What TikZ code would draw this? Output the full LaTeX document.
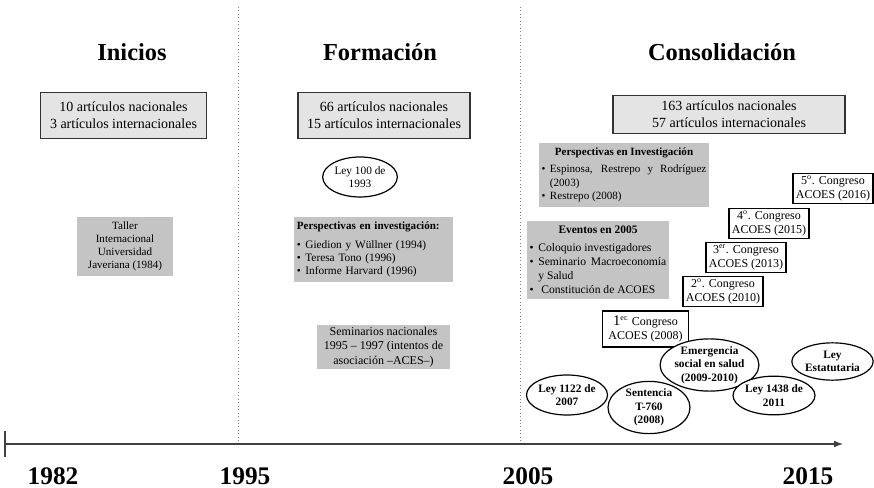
\documentclass[tikz,border=0pt]{standalone}
\usepackage{fontspec}
\setmainfont{Liberation Serif}
\usetikzlibrary{shapes, arrows.meta, positioning}
\definecolor{grisclaro}{HTML}{E4E4E4}
\definecolor{grismedio}{HTML}{C4C4C4}
\tikzstyle{every node}=[font=\small]
\tikzstyle{etapa}=[font=\bfseries\fontsize{18.3}{22}\selectfont]
\tikzstyle{anno}=[font=\bfseries\fontsize{19}{22}\selectfont]
\tikzstyle{cifras}=[draw=black!80, fill=grisclaro, line width=0.9pt, align=center,
  font=\fontsize{10.5}{12.5}\selectfont, minimum height=34pt]
\tikzstyle{hito}=[fill=grismedio, inner sep=2pt, font=\fontsize{8.3}{9.8}\selectfont]
\tikzstyle{congreso}=[draw, fill=white, line width=0.9pt, align=center, inner sep=1pt,
  font=\fontsize{9}{10.8}\selectfont, minimum width=60pt, minimum height=23pt]
\tikzstyle{ley}=[draw, ellipse, fill=white, align=center, inner sep=0pt, line width=0.9pt,
  font=\bfseries\fontsize{8.5}{10}\selectfont]
\newcommand{\punto}[1]{\par\hangindent=0.75em\hangafter=1\noindent
  \makebox[0.75em][l]{\textbullet}#1}

\begin{document}
\begin{tikzpicture}[x=0.75pt,y=-0.75pt,>=Latex]
  \useasboundingbox (0,0) rectangle (874,488);
  % periods and time axis
  \draw[dotted, gray, line width=0.6pt] (238,7) -- (238,444);
  \draw[dotted, gray, line width=0.6pt] (520,7) -- (520,444);
  \coordinate (inicio) at (5,444);
  \coordinate (fin) at (843,444);
  \draw[black!75, line width=0.8pt, ->] (inicio) -- (fin);
  \draw[black!75, line width=0.8pt] (5,431) -- (5,457);
  \node[anno] (a1982) at (53,476) {1982};
  \node[anno] (a1995) at (245,476) {1995};
  \node[anno] (a2005) at (528,476) {2005};
  \node[anno] (a2015) at (808,476) {2015};

  % titles
  \node[etapa] (inicios) at (132,52) {Inicios};
  \node[etapa] (formacion) at (380,52) {Formación};
  \node[etapa] (consolidacion) at (722,52) {Consolidación};

  % article counts
  \node[cifras, minimum width=125pt] (cifras1) at (123.5,115.5)
    {10 artículos nacionales\\3 artículos internacionales};
  \node[cifras, minimum width=129pt] (cifras2) at (384,115.5)
    {66 artículos nacionales\\15 artículos internacionales};
  \node[cifras, minimum width=174pt, minimum height=29pt] (cifras3) at (729,114.5)
    {163 artículos nacionales\\57 artículos internacionales};

  % Inicios
  \node[hito, align=center, minimum width=72pt, minimum height=44pt] (taller) at (125,246.5)
    {Taller\\Internacional\\Universidad\\Javeriana (1984)};

  % Formacion
  \node[ley, font=\fontsize{8.5}{10}\selectfont, minimum width=56pt, minimum height=30pt]
    (ley100) at (360,177) {Ley 100 de\\1993};
  \node[hito, text width=115pt, minimum height=49pt, font=\fontsize{8.5}{9.8}\selectfont]
    (persp1) at (373.5,249.5)
    {{\fontsize{8.3}{9.8}\selectfont\textbf{Perspectivas en investigación:}}\par\vspace{4.5pt}
     \punto{Giedion y Wüllner (1994)}
     \punto{Teresa Tono (1996)}
     \punto{Informe Harvard (1996)}};
  \node[hito, align=center, minimum width=100pt, minimum height=33pt,
    font=\fontsize{9}{10.6}\selectfont] (seminarios)
    at (383.5,347) {Seminarios nacionales\\1995 -- 1997 (intentos de\\asociación --ACES--)};

  % Consolidacion
  \node[hito, text width=123.5pt, align=justify, minimum height=48pt,
    font=\fontsize{8.3}{10}\selectfont] (persp2) at (624,175)
    {\hyphenpenalty=10000\relax
     \makebox[\linewidth]{\textbf{Perspectivas en Investigación}}\par\vspace{3pt}
     \punto{Espinosa, Restrepo y Rodríguez (2003)}
     \punto{Restrepo (2008)}};
  \node[hito, text width=102.5pt, align=justify, minimum height=58pt,
    font=\fontsize{8.7}{10.5}\selectfont] (eventos) at (598,260)
    {\hyphenpenalty=10000\relax
     \makebox[\linewidth]{\fontsize{8.6}{10}\selectfont\textbf{Eventos en 2005}}\par\vspace{3pt}
     \punto{Coloquio investigadores}
     \punto{Seminario Macroeconomía y Salud}
     \punto{\ Constitución de ACOES}};

  \node[congreso, minimum width=64pt, minimum height=27pt] (cong1) at (645.5,329)
    {{\fontsize{11}{12}\selectfont 1}\textsuperscript{er.} Congreso\\ACOES (2008)};
  \node[congreso] (cong2) at (723,291.5) {2\textsuperscript{o}. Congreso\\ACOES (2010)};
  \node[congreso] (cong3) at (746,257.5) {3\textsuperscript{er}. Congreso\\ACOES (2013)};
  \node[congreso] (cong4) at (769,223.5) {4\textsuperscript{o}. Congreso\\ACOES (2015)};
  \node[congreso] (cong5) at (833,188.5) {5\textsuperscript{o}. Congreso\\ACOES (2016)};

  \node[ley, minimum width=60pt, minimum height=30pt] (ley1122) at (567,395)
    {Ley 1122 de\\2007};
  \node[ley, minimum width=61.5pt, minimum height=37pt] (sentencia) at (649,407.5)
    {Sentencia\\T-760\\(2008)};
  \node[ley, minimum width=65pt, minimum height=33pt] (emergencia) at (709.5,365)
    {Emergencia\\social en salud\\(2009-2010)};
  \node[ley, minimum width=61.5pt, minimum height=29pt] (ley1438) at (774,395.5)
    {Ley 1438 de\\2011};
  \node[ley, minimum width=61pt, minimum height=28pt] (estatutaria) at (832.5,361.5)
    {Ley\\Estatutaria};
\end{tikzpicture}
\end{document}
